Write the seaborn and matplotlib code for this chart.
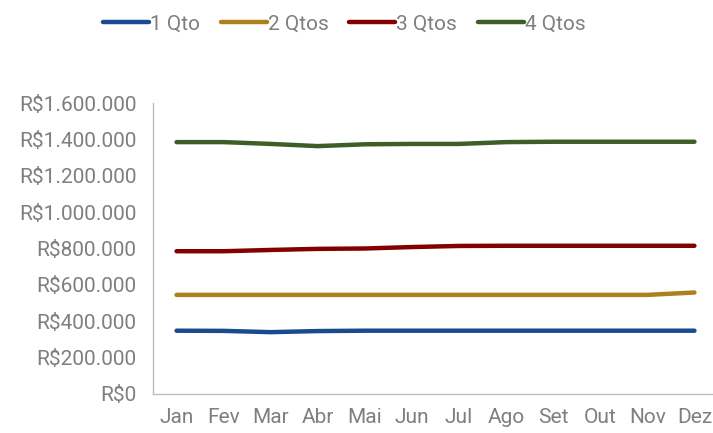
import pandas as pd
import matplotlib.pyplot as plt
import matplotlib.ticker as mticker
import seaborn as sns

meses = ["Jan", "Fev", "Mar", "Abr", "Mai", "Jun", "Jul", "Ago", "Set", "Out", "Nov", "Dez"]
um_qto = [348000, 347000, 340000, 346000, 348000, 348000, 348000, 348000, 348000, 348000, 348000, 348000]
dois_qtos = [545000, 545000, 545000, 545000, 545000, 545000, 545000, 545000, 545000, 545000, 545000, 558000]
tres_qtos = [785000, 785000, 792000, 798000, 800000, 808000, 814000, 815000, 815000, 815000, 815000, 815000]
quatro_qtos = [1385000, 1385000, 1375000, 1363000, 1373000, 1375000, 1375000, 1385000, 1387000, 1387000, 1387000, 1387000]

df = pd.DataFrame({"Mes": meses * 4,
                   "Valor": um_qto + dois_qtos + tres_qtos + quatro_qtos,
                   "Tipo": ["1 Qto"] * 12 + ["2 Qtos"] * 12 + ["3 Qtos"] * 12 + ["4 Qtos"] * 12})

cores = {"1 Qto": "#1A4A8F", "2 Qtos": "#AE7F1F", "3 Qtos": "#840000", "4 Qtos": "#3D5E27"}

sns.set_style("white")
plt.rcParams['font.family'] = ['Roboto', 'DejaVu Sans']

fig = plt.figure(figsize=(7.13, 4.33), dpi=100)
ax = fig.add_axes([0.2146, 0.0901, 0.7924, 0.672])
sns.lineplot(data=df, x="Mes", y="Valor", hue="Tipo", palette=cores, linewidth=3.2,
             solid_capstyle="round", ax=ax, sort=False)

ax.set_xlim(-0.5, 11.5)
ax.set_ylim(0, 1600000)
ax.yaxis.set_major_locator(mticker.MultipleLocator(200000))
ax.yaxis.set_major_formatter(mticker.FuncFormatter(lambda v, p: "R$" + f"{int(v):,}".replace(",", ".")))
ax.set_xlabel("")
ax.set_ylabel("")
ax.tick_params(axis="both", length=0, labelsize=15, labelcolor="#7F7F7F")
ax.tick_params(axis="y", pad=12)
ax.tick_params(axis="x", pad=10)
for s in ["top", "right"]:
    ax.spines[s].set_visible(False)
for s in ["left", "bottom"]:
    ax.spines[s].set_color("#BFBFBF")
    ax.spines[s].set_linewidth(1)

# legenda no topo da figura
handles, labels = ax.get_legend_handles_labels()
ax.get_legend().remove()
leg = fig.legend(handles, labels, loc="center", bbox_to_anchor=(0.483, 0.945), ncol=4, frameon=False,
                 fontsize=15, handlelength=2.2, handletextpad=0.05, columnspacing=1.0)
for t in leg.get_texts():
    t.set_color("#7F7F7F")
for l in leg.get_lines():
    l.set_linewidth(3.2)
    l.set_solid_capstyle("round")

fig.savefig("out.png", dpi=100)
